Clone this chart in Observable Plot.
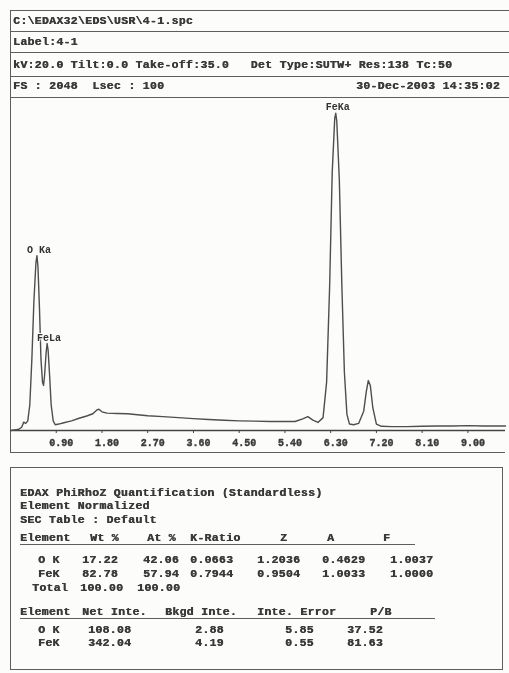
<!DOCTYPE html>
<html><head><meta charset="utf-8">
<script src="https://cdn.jsdelivr.net/npm/d3@7"></script>
<script src="https://cdn.jsdelivr.net/npm/@observablehq/plot@0.6"></script>
<style>
html,body{margin:0;padding:0;background:#fcfcfa;}
#page{position:relative;width:509px;height:673px;overflow:hidden;font-family:"Liberation Mono","DejaVu Sans Mono",monospace;font-weight:bold;color:#3a3a3a;filter:blur(0.3px);}
.t{position:absolute;white-space:pre;font-size:11.5px;line-height:12px;letter-spacing:0.3px;text-shadow:0.45px 0 0 #3a3a3a;}
.hl{position:absolute;height:0;border-top:1.6px solid #5e5e5e;}
.vl{position:absolute;width:0;border-left:1.6px solid #5e5e5e;}
#chart{position:absolute;left:0;top:97px;}
#chart text{paint-order:stroke;}
</style></head>
<body><div id="page"></div>
<script>
// ---- header text ----
const headerLines = [
  "C:\\EDAX32\\EDS\\USR\\4-1.spc",
  "Label:4-1",
  "kV:20.0 Tilt:0.0 Take-off:35.0   Det Type:SUTW+ Res:138 Tc:50",
  "FS : 2048  Lsec : 100"
];
const headerDate = "30-Dec-2003 14:35:02";

// ---- spectrum (energy keV, counts) ----
const energy = [0.00,0.15,0.22,0.26,0.30,0.34,0.38,0.42,0.46,0.50,0.52,0.54,0.57,0.60,0.63,0.65,0.67,0.70,0.72,0.74,0.77,0.80,0.84,0.88,0.95,1.05,1.20,1.35,1.50,1.62,1.70,1.74,1.80,1.90,2.10,2.30,2.50,2.70,3.00,3.30,3.60,3.90,4.20,4.50,4.80,5.10,5.40,5.60,5.75,5.85,5.95,6.05,6.15,6.22,6.28,6.33,6.38,6.40,6.42,6.47,6.52,6.57,6.62,6.67,6.75,6.85,6.95,7.00,7.04,7.08,7.13,7.20,7.30,7.50,7.80,8.10,8.40,8.70,9.00,9.30,9.60,9.74];
const counts = [0,0.3,1.0,2.6,2.2,3.0,8,22,40,52,54.3,51,38,22,15,14,17,24,27,25,17,8,3,1.8,2.0,2.4,3.0,3.8,4.5,5.2,6.4,6.6,5.8,5.4,5.3,5.2,4.9,4.6,4.3,4.0,3.7,3.4,3.2,3.0,2.9,2.8,2.8,2.8,3.6,4.3,3.2,2.5,4,15,45,80,97,98.5,96,78,45,18,5,2.0,1.8,2.2,6,12,15.5,14,7,2.0,1.3,1.2,1.2,1.3,1.4,1.4,1.5,1.4,1.4,1.4];

// ---- peak labels ----
const peakNames = ["O Ka","FeLa","FeKa"];
const peakEnergy = [0.52,0.72,6.40];
const peakCounts = [54.3,27,98.5];

// ---- axis ticks ----
const tickValues = [0.90,1.80,2.70,3.60,4.50,5.40,6.30,7.20,8.10,9.00];
const tickLabels = ["0.90","1.80","2.70","3.60","4.50","5.40","6.30","7.20","8.10","9.00"];

// ---- quantification table ----
const quantTitle = ["EDAX PhiRhoZ Quantification (Standardless)","Element Normalized","SEC Table : Default"];
const quantHeader = ["Element","Wt %","At %","K-Ratio","Z","A","F"];
const elements = ["O K","FeK"];
const wtPct = ["17.22","82.78"];
const atPct = ["42.06","57.94"];
const kRatio = ["0.0663","0.7944"];
const zFactor = ["1.2036","0.9504"];
const aFactor = ["0.4629","1.0033"];
const fFactor = ["1.0037","1.0000"];
const totals = ["Total","100.00","100.00"];
const intHeader = ["Element","Net Inte.","Bkgd Inte.","Inte. Error","P/B"];
const netInte = ["108.08","342.04"];
const bkgdInte = ["2.88","4.19"];
const inteError = ["5.85","0.55"];
const pbRatio = ["37.52","81.63"];

const page = document.getElementById("page");
function txt(s, x, y, opts={}) {
  const d = document.createElement("div");
  d.className = "t"; d.textContent = s;
  d.style.left = x + "px"; d.style.top = (y - 6) + "px";
  if (opts.right) { d.style.left = ""; d.style.right = (509 - x) + "px"; }
  page.appendChild(d); return d;
}
function hl(x1, x2, y) { const d = document.createElement("div"); d.className="hl"; d.style.left=x1+"px"; d.style.width=(x2-x1)+"px"; d.style.top=y+"px"; page.appendChild(d); }
function vl(x, y1, y2) { const d = document.createElement("div"); d.className="vl"; d.style.left=x+"px"; d.style.top=y1+"px"; d.style.height=(y2-y1)+"px"; page.appendChild(d); }

// frame
[10,31,52,76,97].forEach(y => hl(10, 509, y));
hl(10, 505, 452);
vl(10, 10, 453);
hl(10, 503, 467); hl(10, 503, 669); vl(10, 467, 670); vl(502, 467, 670);

// header text
const rowY = [21, 42, 65, 86];
headerLines.forEach((s, i) => txt(s, 13, rowY[i]));
txt(headerDate, 500, 86, {right: true});

// chart
const spectrum = energy.map((e, i) => ({e, c: counts[i]}));
const chart = Plot.plot({
  width: 509, height: 355,
  marginLeft: 10, marginRight: 4, marginTop: 0, marginBottom: 22,
  x: {domain: [0, 9.74]},
  y: {domain: [0, 103.4], axis: null},
  style: {background: "transparent", color: "#3a3a3a", fontFamily: "'Liberation Mono', monospace", fontWeight: "bold"},
  marks: [
    Plot.ruleY([0], {stroke: "#444", strokeWidth: 1.5}),
    Plot.line(spectrum, {x: "e", y: "c", stroke: "#4e4e4e", strokeWidth: 1.4, curve: "linear"}),
    Plot.axisX({ticks: tickValues, tickSize: 3, text: null, stroke: "#444", label: null}),
    Plot.text(tickLabels, {x: tickValues, y: 0, dy: 12, dx: 5, fontSize: 10, fontWeight: "bold", fill: "#3a3a3a", stroke: "#3a3a3a", strokeWidth: 0.4}),
    Plot.text(peakNames, {x: peakEnergy, y: peakCounts, dy: -6, dx: 2, fontSize: 10, fontWeight: "bold", fill: "#333", stroke: "#fcfcfa", strokeWidth: 2})
  ]
});
const holder = document.createElement("div");
holder.id = "chart"; holder.appendChild(chart); page.appendChild(holder);

// quantification table
const tY = [493, 506, 520];
quantTitle.forEach((s, i) => txt(s, 20, tY[i]));
const h1x = [20, 90, 147, 190, 280, 327, 383];
quantHeader.forEach((s, i) => txt(s, h1x[i], 538));
hl(20, 415, 544);
const rowsY = [560, 574];
const c1x = [38, 82, 143, 190, 257, 322, 390];
elements.forEach((el, r) => {
  const vals = [el, wtPct[r], atPct[r], kRatio[r], zFactor[r], aFactor[r], fFactor[r]];
  vals.forEach((v, i) => txt(v, c1x[i], rowsY[r]));
});
txt(totals[0], 32, 588); txt(totals[1], 80, 588); txt(totals[2], 137, 588);

const h2x = [20, 82, 165, 257, 370];
intHeader.forEach((s, i) => txt(s, h2x[i], 612));
hl(20, 435, 618);
const c2x = [38, 88, 195, 285, 347];
const rows2Y = [630, 643];
elements.forEach((el, r) => {
  const vals = [el, netInte[r], bkgdInte[r], inteError[r], pbRatio[r]];
  vals.forEach((v, i) => txt(v, c2x[i], rows2Y[r]));
});
</script></body></html>
